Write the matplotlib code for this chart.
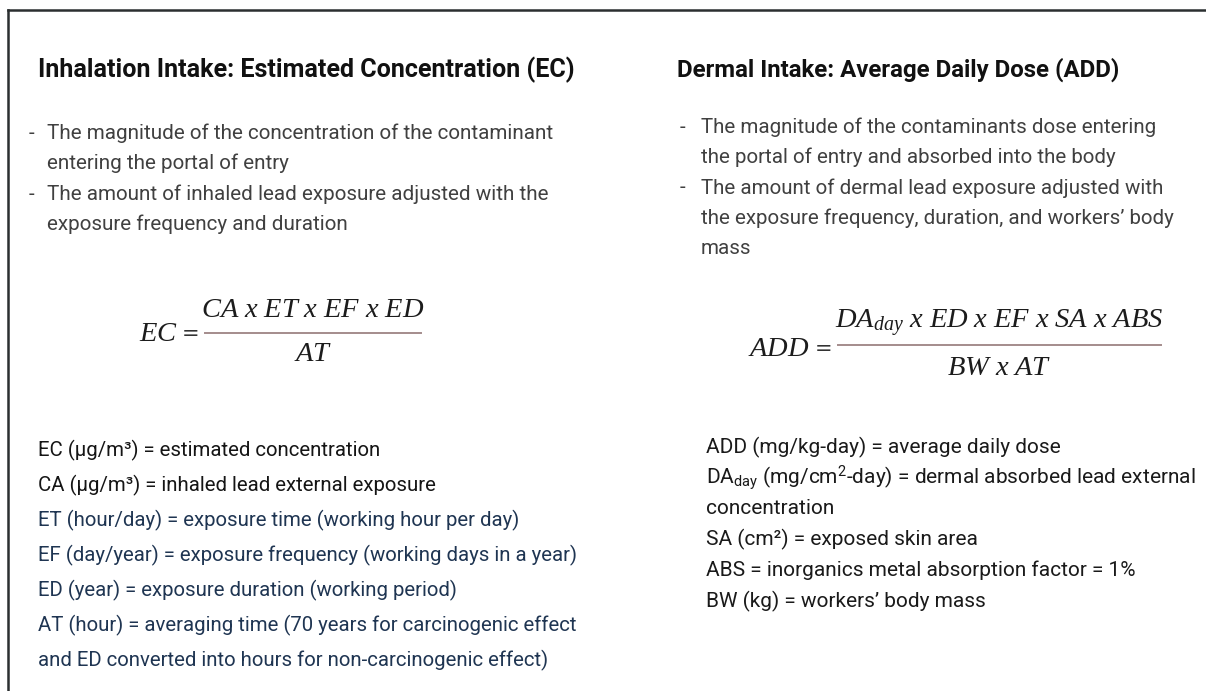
import matplotlib
matplotlib.use("Agg")
import matplotlib.pyplot as plt
from matplotlib.lines import Line2D

plt.rcParams['font.family'] = ['Roboto', 'DejaVu Sans']
plt.rcParams['mathtext.fontset'] = 'custom'
plt.rcParams['mathtext.rm'] = 'Roboto'
plt.rcParams['mathtext.it'] = 'Liberation Serif:italic'
plt.rcParams['mathtext.bf'] = 'Roboto:bold'

# ---- content ----
left_title = "Inhalation Intake: Estimated Concentration (EC)"
right_title = "Dermal Intake: Average Daily Dose (ADD)"

left_bullets = [
    ["The magnitude of the concentration of the contaminant",
     "entering the portal of entry"],
    ["The amount of inhaled lead exposure adjusted with the",
     "exposure frequency and duration"],
]
right_bullets = [
    ["The magnitude of the contaminants dose entering",
     "the portal of entry and absorbed into the body"],
    ["The amount of dermal lead exposure adjusted with",
     "the exposure frequency, duration, and workers\u2019 body",
     "mass"],
]

ec_lhs = r"$EC$"
ec_num = r"$CA\ x\ ET\ x\ EF\ x\ ED$"
ec_den = r"$AT$"
add_lhs = r"$ADD$"
add_num = r"$DA_{day}\ x\ ED\ x\ EF\ x\ SA\ x\ ABS$"
add_den = r"$BW\ x\ AT$"
eq_sign = "="

left_defs = [
    "EC (\u03bcg/m\u00b3) = estimated concentration",
    "CA (\u03bcg/m\u00b3) = inhaled lead external exposure",
    "ET (hour/day) = exposure time (working hour per day)",
    "EF (day/year) = exposure frequency (working days in a year)",
    "ED (year) = exposure duration (working period)",
    "AT (hour) = averaging time (70 years for carcinogenic effect",
    "and ED converted into hours for non-carcinogenic effect)",
]
left_def_colors = ["#151515", "#151515", "#1f3552", "#1f3552", "#1f3552", "#1f3552", "#1f3552"]

right_defs = [
    "ADD (mg/kg-day) = average daily dose",
    r"DA$_{\mathrm{day}}$ (mg/cm$^{\mathrm{2}}$-day) = dermal absorbed lead external",
    "concentration",
    "SA (cm\u00b2) = exposed skin area",
    "ABS = inorganics metal absorption factor = 1%",
    "BW (kg) = workers\u2019 body mass",
]

# ---- figure in pixel coordinates ----
W, H = 1206, 691
fig = plt.figure(figsize=(W / 100, H / 100), dpi=100)
ax = fig.add_axes([0, 0, 1, 1])
ax.set_xlim(0, W)
ax.set_ylim(H, 0)
ax.axis("off")

# frame
ax.add_line(Line2D([8, W], [10, 10], color="#2b2f30", lw=1.8))
ax.add_line(Line2D([8, 8], [10, H], color="#2b2f30", lw=1.8))

# titles
ax.text(38, 70, left_title, fontsize=18.1, fontweight="bold", color="#111111", va="center", ha="left")
ax.text(677, 70, right_title, fontsize=17.3, fontweight="bold", color="#111111", va="center", ha="left")

bullet_color = "#404040"

def draw_bullets(bullets, xdash, xtext, y0, dy, fs):
    y = y0
    for item in bullets:
        ax.text(xdash, y, "-", fontsize=fs, color=bullet_color, va="center", ha="left")
        for line in item:
            ax.text(xtext, y, line, fontsize=fs, color=bullet_color, va="center", ha="left")
            y += dy

draw_bullets(left_bullets, 29, 47, 133, 30.5, 14.85)
draw_bullets(right_bullets, 680, 701, 127, 30.4, 14.8)

# formulas
ffs = 20.5
fcol = "#1c1c1c"
lcol = "#a48c8c"
eq_font = dict(family="DejaVu Sans", fontsize=15, color="#333333", va="center", ha="center")

ax.text(178, 333, ec_lhs, fontsize=ffs, color=fcol, va="center", ha="right")
ax.text(191, 334, eq_sign, **eq_font)
ax.text(313, 309, ec_num, fontsize=ffs, color=fcol, va="center", ha="center")
ax.text(313, 353, ec_den, fontsize=ffs, color=fcol, va="center", ha="center")
ax.add_line(Line2D([205, 421], [333, 333], color=lcol, lw=1.4))

ax.text(810, 348, add_lhs, fontsize=ffs, color=fcol, va="center", ha="right")
ax.text(824, 349, eq_sign, **eq_font)
ax.text(999, 323, add_num, fontsize=ffs, color=fcol, va="center", ha="center")
ax.text(999, 367, add_den, fontsize=ffs, color=fcol, va="center", ha="center")
ax.add_line(Line2D([838, 1161], [345, 345], color=lcol, lw=1.4))

# definitions
for i, (t, c) in enumerate(zip(left_defs, left_def_colors)):
    ax.text(38, 450 + i * 35, t, fontsize=14.7, color=c, va="center", ha="left")

for i, t in enumerate(right_defs):
    ax.text(706, 447 + i * 30.8, t, fontsize=15.0, color="#1a1a1a", va="center", ha="left")

fig.savefig("out.png", dpi=100, facecolor="white")
